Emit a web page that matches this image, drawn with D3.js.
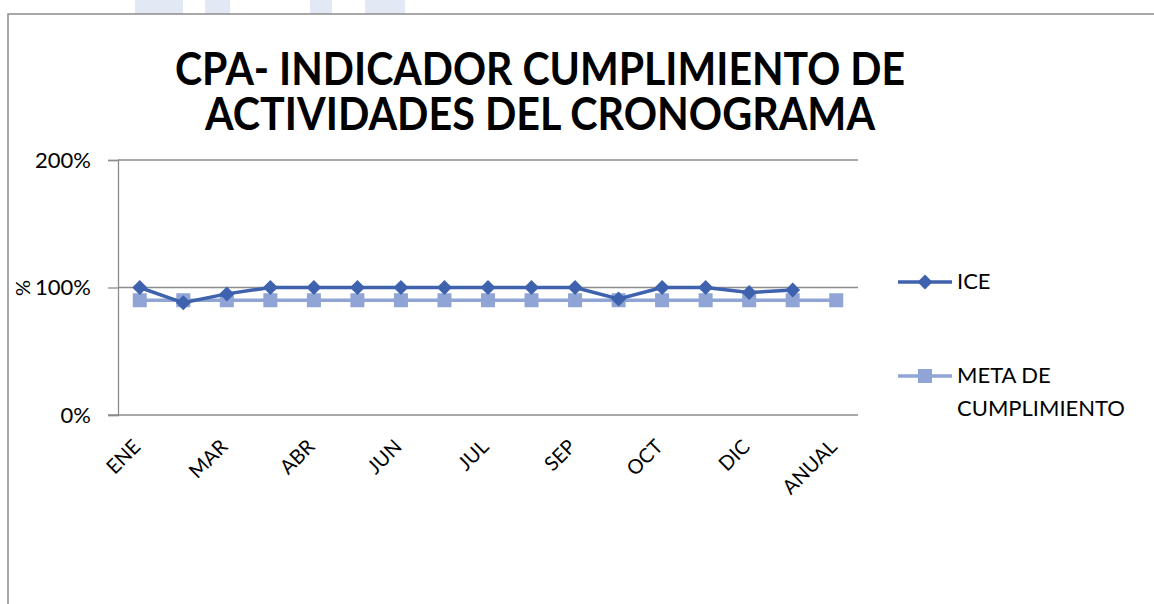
<!DOCTYPE html>
<html>
<head>
<meta charset="utf-8">
<script src="https://cdn.jsdelivr.net/npm/d3@7"></script>
<style>
  body { margin: 0; background: #fff; }
  text { font-family: Lato, "Open Sans", sans-serif; fill: #000; }
</style>
</head>
<body>
<script>
var width = 1154,
  height = 604;

var categories = ["ENE", "FEB", "MAR", "I TRIM", "ABR", "MAY", "JUN", "II TRIM",
  "JUL", "AGO", "SEP", "III TRIM", "OCT", "NOV", "DIC", "IV TRIM", "ANUAL"];
var shownLabels = ["ENE", "MAR", "ABR", "JUN", "JUL", "SEP", "OCT", "DIC", "ANUAL"];
// ICE has no value for ANUAL
var iceValues = [1.00, 0.88, 0.95, 1.00, 1.00, 1.00, 1.00, 1.00,
  1.00, 1.00, 1.00, 0.91, 1.00, 1.00, 0.96, 0.98, null];
var metaValues = [0.90, 0.90, 0.90, 0.90, 0.90, 0.90, 0.90, 0.90,
  0.90, 0.90, 0.90, 0.90, 0.90, 0.90, 0.90, 0.90, 0.90];
var yTicks = [0, 1, 2];
var titleLines = ["CPA- INDICADOR CUMPLIMIENTO DE", "ACTIVIDADES DEL CRONOGRAMA"];

var iceColor = "#3e62ad",
  metaColor = "#90a5d6",
  axisColor = "#8c8c8c";

var svg = d3.select("body").append("svg")
  .attr("width", width)
  .attr("height", height);

// faint bits of the page behind the chart
svg.selectAll("rect.bg")
  .data([[135, 48], [205, 25], [310, 22], [365, 40]])
  .enter().append("rect")
    .attr("class", "bg")
    .attr("x", function(d) { return d[0]; })
    .attr("y", 0)
    .attr("width", function(d) { return d[1]; })
    .attr("height", 14)
    .attr("fill", "#e3e8f5");

// chart frame
svg.append("path")
  .attr("d", "M8,604V14H1154")
  .attr("fill", "none")
  .attr("stroke", axisColor)
  .attr("stroke-width", 1.5);

var x = d3.scaleBand()
  .domain(categories)
  .range([118, 858]);

var y = d3.scaleLinear()
  .domain([0, 2])
  .range([415, 160]);

function cx(i) { return x(categories[i]) + x.bandwidth() / 2; }

// title, sized to match the original's width (Calibri is narrower, so stretch a bit)
var titleWidths = [730, 670];
titleLines.forEach(function(t, i) {
  var tx = svg.append("g")
    .attr("transform", "translate(540," + (85 + i * 45) + ") scale(1,1.1)")
    .append("text")
      .attr("text-anchor", "middle")
      .attr("font-weight", "bold")
      .attr("font-size", 40)
      .text(t);
  var w = tx.node().getComputedTextLength();
  tx.attr("font-size", 40 * titleWidths[i] / w);
});

// gridlines
svg.selectAll("line.grid")
  .data(yTicks.filter(function(d) { return d > 0; }))
  .enter().append("line")
    .attr("class", "grid")
    .attr("x1", 118)
    .attr("x2", 858)
    .attr("y1", y)
    .attr("y2", y)
    .attr("stroke", axisColor)
    .attr("stroke-width", 1.3);

var yAxis = d3.axisLeft(y)
  .tickValues(yTicks)
  .tickSize(10)
  .tickPadding(17)
  .tickFormat(d3.format(".0%"));

var yg = svg.append("g")
  .attr("transform", "translate(118,0)")
  .call(yAxis);
yg.selectAll("path, line").attr("stroke", axisColor).attr("stroke-width", 1.3);
yg.selectAll("text").attr("font-size", 22).attr("font-family", "Lato, sans-serif").attr("fill", "#000");

// x axis line
svg.append("line")
  .attr("x1", 108)
  .attr("x2", 858)
  .attr("y1", y(0))
  .attr("y2", y(0))
  .attr("stroke", axisColor)
  .attr("stroke-width", 1.3);

svg.selectAll("text.xlabel")
  .data(categories)
  .enter().filter(function(d) { return shownLabels.indexOf(d) >= 0; })
  .append("text")
    .attr("class", "xlabel")
    .attr("font-size", 20)
    .attr("text-anchor", "end")
    .attr("transform", function(d) {
      return "translate(" + (x(d) + x.bandwidth() / 2 + 2) + ",448) rotate(-45)";
    })
    .text(function(d) { return d; });

// y axis title
svg.append("text")
  .attr("transform", "translate(30,288) rotate(-90)")
  .attr("text-anchor", "middle")
  .attr("font-size", 20)
  .text("%");

var line = d3.line()
  .defined(function(d) { return d != null; })
  .x(function(d, i) { return cx(i); })
  .y(function(d) { return y(d); });

svg.append("path")
  .datum(metaValues)
  .attr("d", line)
  .attr("fill", "none")
  .attr("stroke", metaColor)
  .attr("stroke-width", 3.5);

svg.selectAll("rect.meta")
  .data(metaValues)
  .enter().append("rect")
    .attr("class", "meta")
    .attr("x", function(d, i) { return cx(i) - 7; })
    .attr("y", function(d) { return y(d) - 7; })
    .attr("width", 14)
    .attr("height", 14)
    .attr("fill", metaColor);

svg.append("path")
  .datum(iceValues)
  .attr("d", line)
  .attr("fill", "none")
  .attr("stroke", iceColor)
  .attr("stroke-width", 3.5);

var diamond = "M0,-7.5L7.5,0L0,7.5L-7.5,0Z";

svg.selectAll("path.ice")
  .data(iceValues.map(function(d, i) { return { v: d, i: i }; })
    .filter(function(d) { return d.v != null; }))
  .enter().append("path")
    .attr("class", "ice")
    .attr("d", diamond)
    .attr("transform", function(d) {
      return "translate(" + cx(d.i) + "," + y(d.v) + ")";
    })
    .attr("fill", iceColor);

// legend
var legend = svg.append("g");
var legendItems = [
  { name: ["ICE"], color: iceColor, y: 282, shape: "diamond" },
  { name: ["META DE", "CUMPLIMIENTO"], color: metaColor, y: 376, shape: "square" }
];

legendItems.forEach(function(item) {
  legend.append("line")
    .attr("x1", 898)
    .attr("x2", 952)
    .attr("y1", item.y)
    .attr("y2", item.y)
    .attr("stroke", item.color)
    .attr("stroke-width", 3.5);
  if (item.shape === "diamond") {
    legend.append("path")
      .attr("d", diamond)
      .attr("transform", "translate(925," + item.y + ")")
      .attr("fill", item.color);
  } else {
    legend.append("rect")
      .attr("x", 918)
      .attr("y", item.y - 7)
      .attr("width", 14)
      .attr("height", 14)
      .attr("fill", item.color);
  }
  item.name.forEach(function(t, j) {
    legend.append("text")
      .attr("x", 957)
      .attr("y", item.y + 7 + j * 33)
      .attr("font-size", 22)
      .text(t);
  });
});
</script>
</body>
</html>
